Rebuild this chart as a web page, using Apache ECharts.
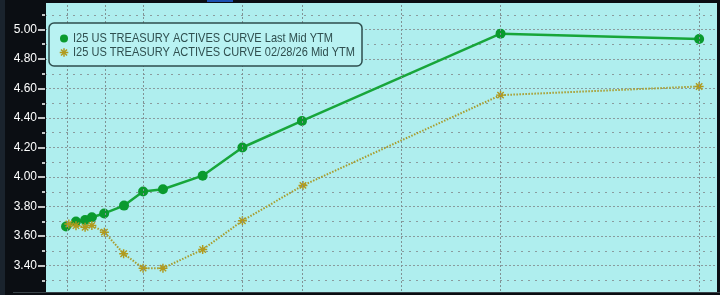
<!DOCTYPE html>
<html>
<head>
<meta charset="utf-8">
<script src="https://cdn.jsdelivr.net/npm/echarts@6/dist/echarts.min.js"></script>
<style>html,body{margin:0;padding:0;background:#0b0e13;}#c{width:720px;height:295px;}</style>
</head>
<body>
<div id="c"></div>
<script>
// Tenors (axis positions in chart units, long end = years to maturity)
const tenors = ['1M','2M','3M','4M','6M','1Y','2Y','3Y','5Y','7Y','10Y','20Y','30Y'];
const lastPos = [-1.88, -1.38, -0.92, -0.58, 0.04, 1.04, 2, 3, 5, 7, 10, 20, 30];
const lastYTM = [3.665, 3.698, 3.709, 3.727, 3.753, 3.806, 3.902, 3.917, 4.009, 4.20, 4.38, 4.972, 4.936];
const prevPos = [-1.74, -1.38, -0.92, -0.58, 0.05, 1.02, 2, 3, 5, 7, 10.05, 20, 30];
const prevYTM = [3.681, 3.670, 3.659, 3.672, 3.626, 3.48, 3.382, 3.382, 3.508, 3.703, 3.943, 4.555, 4.614];
const gridPos = [-1.83, 0.09, 2, 7, 10, 15, 20, 30];
const yTicks = { min: 3.2, max: 5.2, step: 0.2 };
const nameLast = 'I25 US TREASURY ACTIVES CURVE Last Mid YTM';
const namePrev = 'I25 US TREASURY ACTIVES CURVE 02/28/26 Mid YTM';

const FONT = "'Liberation Sans', Arial, sans-serif";
const GREEN = '#0a9a2e', OLIVE = '#b09a1e';
const asterisk = 'path://M-0.8,-5 L0.8,-5 L0.8,5 L-0.8,5 Z M-5,-0.8 L5,-0.8 L5,0.8 L-5,0.8 Z M-3,-4.1 L4.1,3 L3,4.1 L-4.1,-3 Z M-4.1,3 L3,-4.1 L4.1,-3 L-3,4.1 Z';

function legendText(txt, y) {
  return { type: 'text', x: 73, y: y, scaleX: 0.85, z: 202,
    style: { text: txt, fill: '#2f4f4f', font: '13px ' + FONT, verticalAlign: 'middle', align: 'left' } };
}
const starBars = [0, Math.PI / 4, Math.PI / 2, 3 * Math.PI / 4].map(r => ({
  type: 'rect', x: 64, y: 52.5, rotation: r, z: 202,
  shape: { x: -0.75, y: -4.3, width: 1.5, height: 8.6 }, style: { fill: OLIVE }
}));

const chart = echarts.init(document.getElementById('c'), null, {renderer: 'canvas'});
chart.setOption({
  backgroundColor: '#0b0e13',
  animation: false,
  grid: { left: 45, right: 3, top: -9, bottom: -1, show: true, backgroundColor: '#afeeee', borderWidth: 0 },
  xAxis: {
    type: 'value', min: -2.94, max: 30.9,
    axisLabel: { show: false }, axisTick: { show: false }, axisLine: { show: false }, splitLine: { show: false }
  },
  yAxis: {
    type: 'value', min: yTicks.min, max: yTicks.max, interval: yTicks.step,
    axisLine: { show: true, onZero: false, lineStyle: { color: '#0b0e13', width: 1 } },
    axisTick: { show: true, length: 7, lineStyle: { color: '#ffffff', width: 1.5 } },
    minorTick: { show: true, splitNumber: 2, length: 3, lineStyle: { color: '#ffffff', width: 1.5 } },
    axisLabel: { color: '#ffffff', fontSize: 12, fontFamily: FONT, margin: 8, showMinLabel: false, showMaxLabel: false,
      formatter: v => v.toFixed(2) },
    splitLine: { show: true, lineStyle: { color: '#8a9c9e', width: 1, type: [2, 2] } },
    minorSplitLine: { show: true, lineStyle: { color: '#8a9c9e', width: 1, type: [2, 5] } }
  },
  series: [
    {
      type: 'line', name: '_grid', data: [], z: 1, silent: true,
      markLine: {
        silent: true, symbol: ['none', 'none'], label: { show: false },
        lineStyle: { color: '#7f9294', width: 1, type: [2, 2] },
        data: gridPos.map(v => ({ xAxis: v }))
      }
    },
    {
      type: 'line', name: nameLast, z: 3,
      data: lastPos.map((x, i) => [x, lastYTM[i]]),
      symbol: 'circle', symbolSize: 10, showSymbol: true,
      lineStyle: { color: '#17a63a', width: 2.5 },
      itemStyle: { color: GREEN }
    },
    {
      type: 'line', name: namePrev, z: 4,
      data: prevPos.map((x, i) => [x, prevYTM[i]]),
      symbol: asterisk, symbolSize: 9, showSymbol: true,
      lineStyle: { color: '#a89c2c', width: 2, type: [1.5, 1.5] },
      itemStyle: { color: OLIVE }
    }
  ],
  graphic: [
    { type: 'rect', shape: { x: 0, y: 0, width: 720, height: 3 }, style: { fill: '#0b0e13' }, z: 100 },
    { type: 'rect', shape: { x: 207, y: 0, width: 26, height: 2 }, style: { fill: '#1c4fb0' }, z: 101 },
    { type: 'rect', shape: { x: 0, y: 292, width: 720, height: 3 }, style: { fill: '#0b0e13' }, z: 100 },
    { type: 'rect', shape: { x: 13, y: 292, width: 707, height: 1 }, style: { fill: '#3a4248' }, z: 101 },
    { type: 'rect', shape: { x: 717, y: 0, width: 3, height: 295 }, style: { fill: '#0b0e13' }, z: 100 },
    { type: 'rect', shape: { x: 0, y: 0, width: 5, height: 295 }, style: { fill: '#1a232d' }, z: 100 },
    // legend
    { type: 'rect', z: 200, shape: { x: 49, y: 23, width: 313, height: 43, r: 5 },
      style: { fill: '#b8f2f2', stroke: '#2e4e4e', lineWidth: 1.5 } },
    { type: 'circle', z: 202, shape: { cx: 64, cy: 38.5, r: 4 }, style: { fill: GREEN } },
    ...starBars,
    legendText(nameLast, 38.5),
    legendText(namePrev, 52.5)
  ]
});
</script>
</body>
</html>
